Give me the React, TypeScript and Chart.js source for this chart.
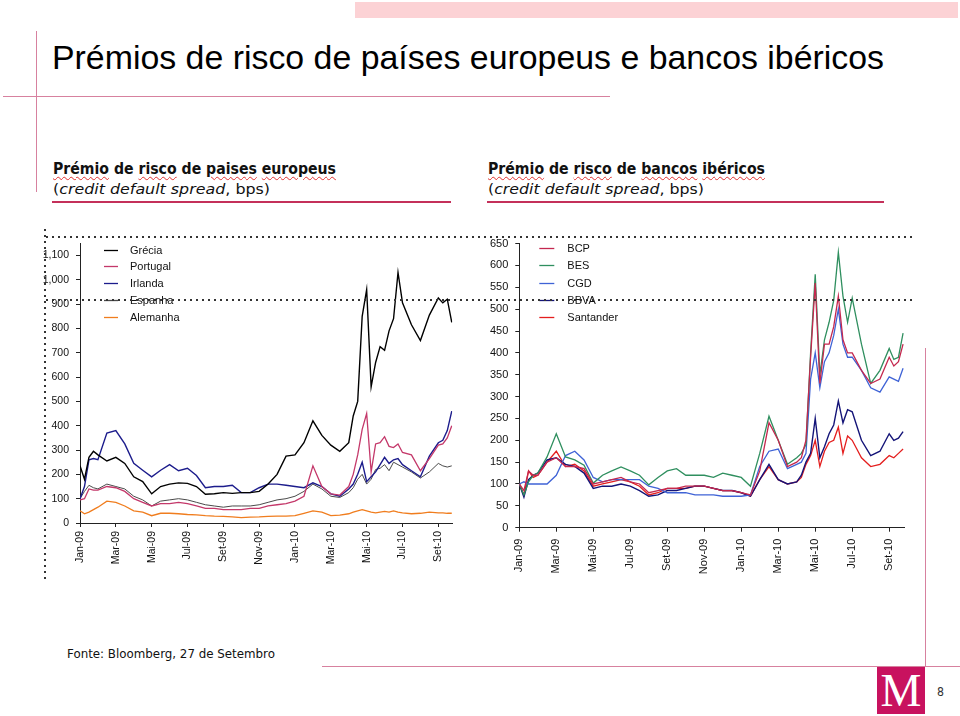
import React, { useEffect, useLayoutEffect, useRef } from "react";
import { Chart, registerables } from "chart.js";

Chart.register(...registerables);

// ---------- data ----------
// month offsets from Jan-2009 (0 = 1 Jan 2009)
const monthGrid = [
  0, 0.25, 0.5, 0.75, 1, 1.5, 2, 2.5, 3, 3.5, 4, 4.5, 5, 5.5, 6, 6.5, 7, 7.5, 8, 8.5, 9, 9.5, 10, 10.5, 11, 11.5,
  12, 12.5, 13, 13.5, 14, 14.5, 15, 15.25, 15.5, 15.75, 16, 16.25, 16.5, 16.75, 17, 17.25, 17.5, 17.75, 18, 18.5,
  19, 19.5, 20, 20.25, 20.5, 20.75,
];
const tickMonths = [0, 2, 4, 6, 8, 10, 12, 14, 16, 18, 20];
const tickLabels = ["Jan-09", "Mar-09", "Mai-09", "Jul-09", "Set-09", "Nov-09", "Jan-10", "Mar-10", "Mai-10", "Jul-10", "Set-10"];

const countryNames = ["Grécia", "Portugal", "Irlanda", "Espanha", "Alemanha"];
const greece = [235, 180, 270, 295, 280, 255, 270, 245, 190, 170, 120, 150, 160, 165, 163, 150, 118, 120, 125, 122, 125, 125, 130, 160, 200, 275, 280, 330, 420, 360, 320, 295, 330, 440, 500, 850, 960, 560, 660, 725, 710, 790, 840, 1030, 905, 815, 750, 855, 925, 905, 920, 825];
const portugal = [95, 100, 140, 135, 135, 150, 145, 130, 100, 85, 70, 80, 80, 85, 80, 70, 60, 60, 55, 55, 55, 60, 60, 70, 75, 80, 90, 110, 235, 150, 120, 115, 150, 200, 280, 385, 450, 210, 325, 330, 355, 315, 310, 325, 290, 280, 215, 265, 320, 325, 350, 400];
const ireland = [100, 150, 260, 265, 260, 370, 380, 325, 245, 217, 190, 217, 240, 215, 225, 195, 145, 150, 150, 155, 125, 125, 145, 160, 160, 155, 150, 145, 165, 150, 120, 110, 140, 160, 200, 250, 170, 190, 210, 240, 270, 245, 260, 265, 240, 215, 190, 275, 330, 340, 380, 460];
const spain = [100, 130, 155, 145, 140, 160, 150, 140, 110, 95, 70, 90, 95, 100, 95, 85, 75, 70, 65, 70, 70, 70, 75, 85, 95, 100, 110, 130, 160, 140, 110, 105, 125, 145, 180, 200, 160, 180, 220, 225, 240, 215, 250, 240, 230, 210, 185, 210, 245, 235, 230, 235];
const germany = [50, 38, 45, 55, 65, 90, 85, 70, 50, 45, 30, 40, 40, 38, 35, 33, 30, 28, 27, 25, 22, 24, 25, 27, 28, 28, 30, 40, 50, 45, 30, 32, 38, 45, 50, 55, 50, 45, 42, 45, 48, 45, 50, 45, 42, 38, 40, 45, 42, 42, 40, 40];

const bankNames = ["BCP", "BES", "CGD", "BBVA", "Santander"];
const bcp = [100, 85, 130, 120, 120, 150, 160, 140, 140, 135, 100, 105, 110, 115, 105, 100, 80, 85, 90, 90, 95, 95, 95, 90, 85, 85, 80, 75, 130, 240, 200, 140, 150, 160, 200, 390, 560, 330, 420, 420, 460, 530, 430, 400, 400, 360, 330, 340, 390, 370, 380, 420];
const bes = [100, 75, 105, 120, 125, 162, 215, 162, 155, 143, 102, 120, 130, 139, 130, 120, 98, 115, 130, 135, 120, 120, 120, 115, 125, 120, 115, 95, 170, 255, 200, 145, 160, 170, 190, 400, 580, 350, 430, 470, 520, 630, 530, 470, 525, 420, 330, 360, 410, 385, 390, 445];
const cgd = [100, 105, 100, 100, 100, 100, 120, 165, 175, 155, 115, 105, 110, 110, 110, 110, 95, 90, 80, 80, 80, 75, 75, 75, 72, 72, 72, 75, 140, 175, 180, 135, 145, 150, 170, 340, 400, 320, 380, 400, 440, 500, 420, 390, 390, 360, 320, 310, 345, 340, 335, 365];
const bbva = [100, 70, 110, 120, 125, 155, 160, 145, 140, 125, 90, 95, 95, 100, 95, 85, 72, 75, 85, 85, 90, 95, 95, 90, 85, 85, 80, 72, 110, 145, 110, 100, 105, 120, 150, 170, 250, 160, 185, 215, 235, 290, 240, 270, 265, 200, 165, 175, 215, 200, 205, 220];
const santander = [100, 75, 130, 115, 120, 150, 175, 140, 145, 130, 95, 100, 105, 110, 105, 95, 75, 80, 90, 90, 90, 95, 95, 90, 85, 85, 80, 72, 110, 140, 110, 100, 105, 115, 145, 165, 200, 140, 175, 195, 200, 230, 170, 210, 200, 160, 140, 145, 165, 160, 170, 180];

const leftYTicks = [0, 100, 200, 300, 400, 500, 600, 700, 800, 900, 1000, 1100];
const rightYTicks = [0, 50, 100, 150, 200, 250, 300, 350, 400, 450, 500, 550, 600, 650];

// ---------- styles ----------
const countryColors = ["#000000", "#c4386a", "#1c1c8c", "#4a4a4a", "#f07d1e"];
const countryWidths = [1.4, 1.3, 1.4, 1.0, 1.3];
const bankColors = ["#c4284f", "#2f8f5f", "#3f63d6", "#141478", "#e41e1e"];
const PINK = "#d7819f";
const CRIMSON = "#c4305a";
const AXIS = "#222222";

const insideLegend = {
  id: "insideLegend",
  afterDraw(chart: any, _args: any, opts: any) {
    const { ctx, chartArea } = chart;
    ctx.save();
    ctx.font = opts.font;
    ctx.textBaseline = "middle";
    ctx.textAlign = "left";
    chart.data.datasets.forEach((ds: any, i: number) => {
      const y = Math.round(chartArea.top + opts.top + i * opts.rowH) + 0.5;
      ctx.strokeStyle = ds.borderColor;
      ctx.lineWidth = 1.3;
      ctx.beginPath();
      ctx.moveTo(chartArea.left + opts.lineX, y);
      ctx.lineTo(chartArea.left + opts.lineX + opts.lineLen, y);
      ctx.stroke();
      ctx.fillStyle = "#111";
      ctx.fillText(ds.label, chartArea.left + opts.textX, y);
    });
    ctx.restore();
  },
};

function makeConfig(spec: any) {
  const font = { family: "'Liberation Sans', Arial, sans-serif", size: spec.fontSize };
  return {
    type: "line",
    data: {
      datasets: spec.names.map((name: string, i: number) => ({
        label: name,
        data: monthGrid.map((m, j) => ({ x: m, y: spec.series[i][j] })),
        borderColor: spec.colors[i],
        backgroundColor: spec.colors[i],
        borderWidth: spec.widths[i],
        pointRadius: 0,
        tension: 0,
        fill: false,
      })),
    },
    options: {
      animation: false,
      responsive: false,
      maintainAspectRatio: false,
      events: [],
      layout: { padding: spec.padding },
      plugins: {
        legend: { display: false },
        tooltip: { enabled: false },
        insideLegend: spec.legend,
      },
      scales: {
        x: {
          type: "linear",
          min: 0,
          max: spec.xMax,
          afterBuildTicks: (s: any) => {
            s.ticks = tickMonths.map((v) => ({ value: v }));
          },
          afterFit: (s: any) => {
            s.height = spec.xHeight;
          },
          ticks: {
            callback: (_v: any, i: number) => tickLabels[i],
            minRotation: 90,
            maxRotation: 90,
            autoSkip: false,
            font,
            color: "#111",
            padding: spec.xPad,
          },
          grid: { display: true, drawOnChartArea: false, drawTicks: true, tickLength: 4, color: AXIS },
          border: { display: true, color: AXIS, width: 1 },
        },
        y: {
          min: 0,
          max: spec.yMax,
          afterBuildTicks: (s: any) => {
            s.ticks = spec.yTicks.map((v: number) => ({ value: v }));
          },
          afterFit: (s: any) => {
            s.width = spec.yWidth;
          },
          ticks: { font, color: "#111", padding: 7 },
          grid: { display: true, drawOnChartArea: false, drawTicks: true, tickLength: 4, color: AXIS },
          border: { display: true, color: AXIS, width: 1 },
        },
      },
    },
    plugins: [insideLegend],
  };
}

const leftSpec = {
  names: countryNames,
  series: [greece, portugal, ireland, spain, germany],
  colors: countryColors,
  widths: countryWidths,
  xMax: 20.78,
  yMax: 1150,
  yTicks: leftYTicks,
  yWidth: 50,
  xHeight: 67,
  xPad: 4,
  fontSize: 10.5,
  padding: { left: 0, right: 17.7, top: 10.7, bottom: 0 },
  legend: { font: "11px 'Liberation Sans', Arial, sans-serif", lineX: 24, lineLen: 14, textX: 50, top: 6.3, rowH: 16.75 },
};

const rightSpec = {
  names: bankNames,
  series: [bcp, bes, cgd, bbva, santander],
  colors: bankColors,
  widths: [1.3, 1.3, 1.3, 1.4, 1.3],
  xMax: 20.8,
  yMax: 650,
  yTicks: rightYTicks,
  yWidth: 49.3,
  xHeight: 62.3,
  xPad: 7,
  fontSize: 11,
  padding: { left: 0, right: 16, top: 12.7, bottom: 0 },
  legend: { font: "11px 'Liberation Sans', Arial, sans-serif", lineX: 20, lineLen: 15, textX: 48, top: 4.5, rowH: 17.2 },
};

// ---------- components ----------
function LineChart({ left, top, width, height, spec }: any) {
  const ref = useRef<HTMLCanvasElement>(null);
  useEffect(() => {
    const chart = new Chart(ref.current as HTMLCanvasElement, makeConfig(spec) as any);
    return () => chart.destroy();
  }, [spec]);
  return (
    <canvas
      ref={ref}
      width={width}
      height={height}
      style={{ position: "absolute", left, top, width, height, display: "block" }}
    />
  );
}

function FitText({ left, top, width, size, family, weight, color, children }: any) {
  const ref = useRef<HTMLSpanElement>(null);
  useLayoutEffect(() => {
    const el = ref.current;
    if (!el) return;
    el.style.transform = "none";
    const w = el.getBoundingClientRect().width;
    if (w > 0) el.style.transform = `scaleX(${width / w})`;
  }, [width]);
  return (
    <span
      ref={ref}
      style={{
        position: "absolute",
        left,
        top,
        fontSize: size,
        lineHeight: `${size}px`,
        fontFamily: family,
        fontWeight: weight || "normal",
        color: color || "#000",
        whiteSpace: "nowrap",
        transformOrigin: "0 0",
        display: "inline-block",
      }}
    >
      {children}
    </span>
  );
}

const wavy: React.CSSProperties = {
  textDecorationLine: "underline",
  textDecorationStyle: "wavy",
  textDecorationColor: "#e03030",
  textDecorationThickness: "1px",
  textUnderlineOffset: "2px",
};

function Box({ left, top, width, height, bg, z }: any) {
  return <div style={{ position: "absolute", left, top, width, height, background: bg, zIndex: z || 0 }} />;
}

function DotsH({ left, top, width }: any) {
  return (
    <div
      style={{
        position: "absolute",
        left,
        top,
        width,
        height: 2,
        zIndex: 3,
        backgroundImage: "linear-gradient(to right, #333 0px, #333 2px, transparent 2px)",
        backgroundSize: "6px 2px",
      }}
    />
  );
}

function DotsV({ left, top, height }: any) {
  return (
    <div
      style={{
        position: "absolute",
        left,
        top,
        width: 2,
        height,
        zIndex: 3,
        backgroundImage: "linear-gradient(to bottom, #333 0px, #333 2px, transparent 2px)",
        backgroundSize: "2px 6px",
      }}
    />
  );
}

const SANS = "'Liberation Sans', Arial, sans-serif";
const DEJAVU = "'DejaVu Sans', Verdana, sans-serif";

export default function App() {
  return (
    <div
      style={{
        position: "absolute",
        left: 0,
        top: 0,
        width: 960,
        height: 716,
        background: "#fff",
        overflow: "hidden",
      }}
    >
      {/* slide decoration */}
      <Box left={355} top={2} width={603} height={16} bg="#fcd2d5" />
      <Box left={3} top={96} width={607} height={1} bg={PINK} />
      <Box left={36} top={31} width={1} height={161} bg={PINK} />
      <Box left={925} top={348} width={1} height={318} bg={PINK} />
      <Box left={322} top={666} width={638} height={1} bg={PINK} />

      <FitText left={52} top={40.5} width={832} size={33.5} family={SANS}>
        Prémios de risco de países europeus e bancos ibéricos
      </FitText>

      {/* panel headings */}
      <FitText left={53} top={161.5} width={283} size={15} family={DEJAVU} weight="bold" color="#111">
        <span style={wavy}>Prémio</span> de <span style={wavy}>risco</span> de <span style={wavy}>paises</span>{" "}
        <span style={wavy}>europeus</span>
      </FitText>
      <FitText left={53} top={182} width={217} size={14} family={DEJAVU} color="#111">
        (<i>credit default spread</i>, bps)
      </FitText>
      <Box left={52} top={201} width={399} height={2} bg={CRIMSON} />

      <FitText left={488} top={161.5} width={277} size={15} family={DEJAVU} weight="bold" color="#111">
        <span style={wavy}>Prémio</span> de <span style={wavy}>risco</span> de <span style={wavy}>bancos</span>{" "}
        <span style={wavy}>ibéricos</span>
      </FitText>
      <FitText left={488} top={182} width={216} size={14} family={DEJAVU} color="#111">
        (<i>credit default spread</i>, bps)
      </FitText>
      <Box left={487} top={201} width={397} height={2} bg={CRIMSON} />

      {/* charts */}
      <LineChart left={30} top={230} width={440} height={360} spec={leftSpec} />
      <LineChart left={470} top={230} width={450} height={360} spec={rightSpec} />

      {/* dotted guides */}
      <DotsH left={46} top={236} width={866} />
      <DotsH left={46} top={299} width={866} />
      <DotsV left={44} top={229} height={352} />

      {/* source */}
      <FitText left={67} top={647} width={208} size={13} family={DEJAVU} color="#111">
        Fonte: Bloomberg, 27 de Setembro
      </FitText>

      {/* logo + page number */}
      <div
        style={{
          position: "absolute",
          left: 877,
          top: 667,
          width: 48,
          height: 47,
          background: "#c8125f",
          color: "#fff",
          fontFamily: "'Liberation Serif', 'DejaVu Serif', serif",
          fontSize: 46,
          lineHeight: "47px",
          textAlign: "center",
          overflow: "hidden",
        }}
      >
        M
      </div>
      <FitText left={937} top={686} width={7} size={12} family={DEJAVU} color="#333">
        8
      </FitText>
    </div>
  );
}
